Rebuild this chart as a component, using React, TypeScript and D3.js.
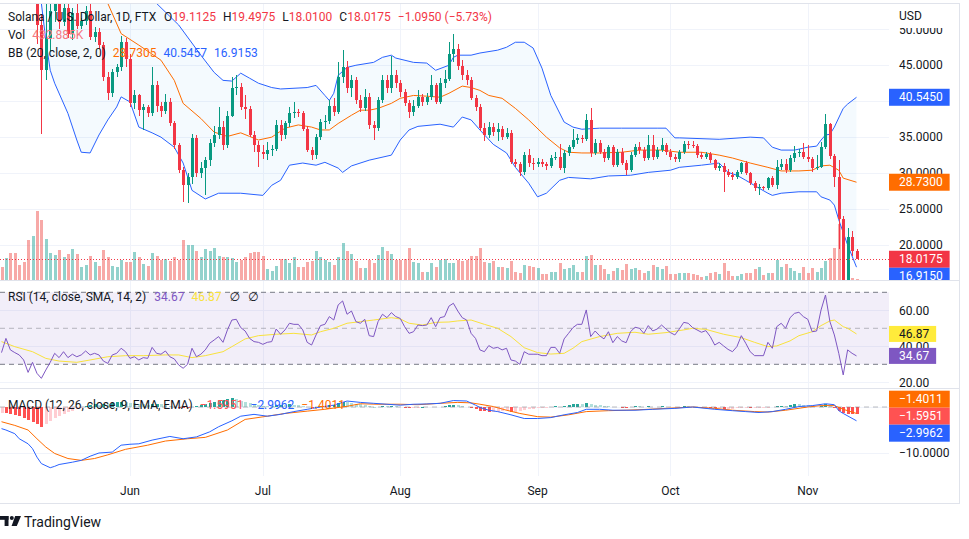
import React from 'react';
import * as d3 from 'd3';

// ---- data (SOL/USD daily, FTX) ----
const startDate = new Date(2022, 4, 3); // first candle: 3 May 2022

const opens = [
  88, 86, 93, 86, 83, 79, 73, 62, 64, 50.6,
  44.3, 48.75, 52.5, 54.5, 51, 53, 49.4, 52.3, 50.5, 51.2,
  52.6, 48.9, 49.6, 47.8, 43.3, 41.1, 44.0, 44.7, 48.2, 45.9,
  39.7, 40.8, 38.75, 39.2, 38.3, 42.2, 39.4, 38.6, 39.9, 36.9,
  33.9, 30.4, 28.3, 29.4, 34.9, 30.0, 30.7, 31.8, 34.2, 35.3,
  36.4, 33.9, 38.0, 41.8, 42.0, 39.2, 38.9, 35.3, 33.9, 32.9,
  32.6, 33.2, 33.4, 36.7, 35.3, 36.9, 38.3, 38.5, 38.3, 36.2,
  33.2, 32.5, 35.0, 37.1, 37.3, 39.4, 38.5, 43.3, 44.7, 41.8,
  42.9, 40.1, 39.0, 40.6, 36.7, 36.25, 40.1, 42.9, 41.8, 43.6,
  42.5, 41.25, 39.7, 38.5, 39.4, 40.6, 39.9, 40.6, 42.2, 39.9,
  42.6, 43.1, 46.6, 47.2, 44.9, 43.6, 42.9, 40.4, 39.2, 36.25,
  35.3, 36.4, 35.7, 36.2, 35.0, 35.6, 31.5, 31.3, 30.1, 32.5,
  31.4, 31.3, 31.6, 31.3, 31.0, 32.1, 32.3, 30.7, 32.8, 33.6,
  34.6, 34.9, 34.7, 37.4, 32.8, 34.2, 32.9, 32.1, 33.6, 31.1,
  32.9, 31.4, 30.4, 32.5, 33.6, 33.2, 32.1, 33.9, 32.2, 33.2,
  33.9, 32.9, 32.2, 32.0, 32.9, 34.1, 33.9, 33.7, 32.5, 32.3,
  32.6, 31.8, 30.7, 31.0, 30.1, 29.7, 29.4, 30.1, 31.4, 30.0,
  28.6, 27.9, 28.0, 27.9, 29.3, 28.3, 30.8, 31.2, 30.4, 32.1,
  32.8, 32.9, 32.2, 31.9, 30.7, 30.9, 33.6, 36.8, 32.4, 29.4,
  23.6, 14.5, 21.1, 19.1125,
];
const highs = [
  89.5, 94, 94.5, 87, 84.5, 80, 74, 66, 66, 52,
  54, 53.5, 56, 55, 54, 54, 53, 54, 51.6, 53.2,
  53.6, 50.3, 50.2, 48.3, 44, 44.5, 45.2, 49.0, 48.8, 46.5,
  41.5, 41.0, 39.6, 39.5, 44.7, 42.8, 39.9, 41.0, 40.4, 37.2,
  34.2, 30.8, 30.0, 35.5, 35.3, 31.6, 32.2, 34.8, 36.5, 39.2,
  37.2, 38.6, 43.4, 43.6, 42.5, 40.8, 39.3, 35.8, 34.4, 33.9,
  34.3, 33.9, 37.4, 37.4, 37.2, 39.2, 39.9, 38.9, 38.6, 36.5,
  33.6, 35.5, 37.5, 38.1, 40.2, 40.4, 45.4, 47.1, 45.6, 43.6,
  43.4, 40.8, 41.7, 41.2, 37.3, 40.6, 43.7, 43.7, 46.3, 44.3,
  42.9, 41.7, 40.1, 40.1, 41.5, 41.0, 41.2, 43.6, 42.6, 43.2,
  44.3, 48.2, 49.4, 48.0, 45.7, 44.3, 43.4, 40.9, 39.6, 36.9,
  37.1, 37.0, 37.0, 36.6, 36.3, 36.0, 32.0, 31.6, 32.9, 33.4,
  32.1, 32.1, 32.0, 31.6, 32.5, 32.9, 34.0, 33.2, 33.9, 36.1,
  35.4, 35.3, 38.2, 39.1, 34.8, 34.6, 33.3, 33.9, 33.9, 33.4,
  33.5, 31.8, 32.9, 34.1, 34.3, 33.6, 35.3, 35.3, 33.6, 34.9,
  34.2, 33.3, 32.6, 33.2, 34.5, 34.4, 34.4, 34.1, 32.9, 32.9,
  33.0, 32.0, 31.4, 31.4, 30.6, 30.1, 30.4, 31.6, 31.7, 30.2,
  28.9, 28.5, 28.2, 29.5, 29.6, 31.8, 32.0, 32.0, 32.5, 33.8,
  33.4, 34.2, 33.9, 32.2, 32.5, 34.3, 38.2, 36.9, 32.6, 31.8,
  24.0, 22.4, 21.9, 19.4975,
];
const lows = [
  85, 85, 84, 82, 78, 72, 58, 57, 48, 35.4,
  43, 47, 51, 50, 50.5, 48.8, 48.5, 50, 50.1, 50.6,
  48.5, 48.2, 47.3, 42.8, 40.1, 40.6, 43.4, 44.2, 44.8, 39.2,
  38.9, 38.0, 36.0, 37.8, 38.0, 38.5, 37.8, 38.2, 36.5, 33.4,
  30.0, 26.0, 25.9, 28.5, 29.5, 29.3, 26.9, 31.0, 33.6, 34.8,
  33.2, 33.5, 37.8, 40.9, 38.8, 37.5, 35.0, 33.0, 30.8, 31.9,
  31.8, 32.4, 33.1, 34.5, 34.8, 36.4, 37.6, 37.8, 35.9, 32.9,
  31.8, 32.0, 34.6, 36.2, 36.8, 37.9, 38.2, 42.5, 41.2, 40.6,
  39.6, 38.5, 38.6, 36.2, 34.6, 35.9, 39.8, 41.1, 41.1, 41.8,
  40.6, 39.3, 37.6, 38.0, 39.0, 39.4, 39.5, 40.1, 39.6, 39.6,
  41.8, 42.8, 45.5, 44.3, 43.0, 42.2, 40.1, 38.6, 35.9, 34.5,
  34.9, 35.2, 34.5, 34.6, 34.8, 31.2, 30.8, 29.6, 29.8, 30.9,
  30.4, 30.8, 30.9, 30.5, 30.7, 31.8, 30.4, 30.0, 32.4, 33.3,
  34.1, 34.2, 34.4, 32.3, 32.5, 32.6, 31.6, 31.8, 30.8, 30.9,
  31.1, 29.7, 30.1, 32.2, 32.6, 31.7, 31.8, 31.8, 31.9, 32.9,
  32.5, 31.8, 31.5, 31.6, 32.6, 33.4, 33.5, 32.1, 31.9, 31.9,
  31.4, 30.4, 30.3, 27.4, 29.4, 29.1, 29.2, 29.9, 29.8, 28.3,
  27.5, 26.9, 27.6, 27.7, 28.0, 27.8, 30.4, 30.0, 30.1, 31.6,
  32.2, 31.9, 31.6, 30.1, 30.4, 30.7, 33.3, 32.0, 28.1, 19.5,
  12.5, 13.8, 18.5, 18.01,
];
const closes = [
  86, 93, 86, 83, 79, 73, 62, 64, 50.6, 44.3,
  48.75, 52.5, 54.5, 51, 53, 49.4, 52.3, 50.5, 51.2, 52.6,
  48.9, 49.6, 47.8, 43.3, 41.1, 44.0, 44.7, 48.2, 45.9, 39.7,
  40.8, 38.75, 39.2, 38.3, 42.2, 39.4, 38.6, 39.9, 36.9, 33.9,
  30.4, 28.3, 29.4, 34.9, 30.0, 30.7, 31.8, 34.2, 35.3, 36.4,
  33.9, 38.0, 41.8, 42.0, 39.2, 38.9, 35.3, 33.9, 32.9, 32.6,
  33.2, 33.4, 36.7, 35.3, 36.9, 38.3, 38.5, 38.3, 36.2, 33.2,
  32.5, 35.0, 37.1, 37.3, 39.4, 38.5, 43.3, 44.7, 41.8, 42.9,
  40.1, 39.0, 40.6, 36.7, 36.25, 40.1, 42.9, 41.8, 43.6, 42.5,
  41.25, 39.7, 38.5, 39.4, 40.6, 39.9, 40.6, 42.2, 39.9, 42.6,
  43.1, 46.6, 47.2, 44.9, 43.6, 42.9, 40.4, 39.2, 36.25, 35.3,
  36.4, 35.7, 36.2, 35.0, 35.6, 31.5, 31.3, 30.1, 32.5, 31.4,
  31.3, 31.6, 31.3, 31.0, 32.1, 32.3, 30.7, 32.8, 33.6, 34.6,
  34.9, 34.7, 37.4, 32.8, 34.2, 32.9, 32.1, 33.6, 31.1, 32.9,
  31.4, 30.4, 32.5, 33.6, 33.2, 32.1, 33.9, 32.2, 33.2, 33.9,
  32.9, 32.2, 32.0, 32.9, 34.1, 33.9, 33.7, 32.5, 32.3, 32.6,
  31.8, 30.7, 31.0, 30.1, 29.7, 29.4, 30.1, 31.4, 30.0, 28.6,
  27.9, 28.0, 27.9, 29.3, 28.3, 30.8, 31.2, 30.4, 32.1, 32.8,
  32.9, 32.2, 31.9, 30.7, 30.9, 33.6, 36.8, 32.4, 29.4, 23.6,
  14.5, 21.1, 19.1125, 18.0175,
];
// volume, thousands
const volumes = [
  4550, 7700, 9450, 9450, 5250, 6300, 14000, 15400, 24150, 21000,
  14350, 9450, 8750, 10500, 8050, 9100, 10850, 9100, 4550, 5250,
  8400, 6300, 4900, 10500, 8050, 4900, 4550, 7000, 6300, 6300,
  9800, 8050, 5600, 4900, 9450, 8400, 7000, 7350, 6650, 8050,
  7000, 14000, 12250, 12250, 10150, 8050, 10850, 10150, 11200, 8400,
  8050, 8050, 7700, 6300, 7000, 8050, 9450, 9800, 9800, 8400,
  3850, 3150, 4900, 7350, 7350, 5950, 8050, 4550, 4550, 6300,
  6650, 10150, 8050, 7000, 6300, 5250, 8050, 12950, 10150, 9100,
  6650, 4200, 4200, 7000, 5950, 8750, 11550, 10150, 9100, 7000,
  7000, 7350, 11200, 6300, 5950, 2800, 2800, 5950, 4550, 7000,
  7350, 5950, 5950, 7000, 6650, 7000, 8400, 8400, 11200, 6300,
  5950, 6650, 4550, 4550, 4200, 6650, 2800, 2450, 5250, 4900,
  4550, 4200, 2100, 2100, 2800, 2800, 5950, 3850, 4200, 5250,
  2800, 2800, 8400, 8750, 5250, 5250, 3850, 2100, 3150, 4200,
  3500, 5600, 3850, 4200, 3500, 2450, 3150, 5250, 4550, 3850,
  4900, 2100, 2100, 2450, 2450, 2450, 2100, 1750, 1050, 1400,
  2450, 2800, 2100, 5950, 3150, 1400, 1400, 2100, 2450, 2450,
  3850, 4550, 1750, 2450, 2450, 7000, 4550, 5600, 4200, 3150,
  2450, 4550, 2450, 4200, 2800, 4200, 6650, 7700, 11200, 19600,
  17500, 2800, 700, 432.885,
];

// Bollinger Bands (20, 2): [day index, value]
const bbUpper: [number, number][] = [
  [35, 53.6], [40, 50.6], [45, 46.4], [48, 44.0], [50, 42.9], [52, 42.8], [54, 43.9], [56, 43.2],
  [58, 42.5], [61, 41.9], [63, 41.7], [69, 41.9], [71, 42.2], [73, 40.8], [74, 40.1], [75, 41.1],
  [76, 43.6], [78, 44.7], [80, 45.0], [84, 45.4], [86, 46.1], [88, 46.4], [89, 46.0], [93, 45.4],
  [96, 45.3], [98, 44.3], [101, 45.0], [102, 46.1], [103, 46.4], [106, 46.4], [108, 46.7], [112, 47.1],
  [114, 47.5], [116, 48.2], [118, 48.2], [120, 47.4], [122, 44.6], [124, 40.8], [127, 37.1], [129, 36.4],
  [131, 36.1], [135, 36.25], [140, 36.25], [148, 36.25], [150, 36.25], [152, 34.9], [153, 34.9], [162, 34.7],
  [169, 35.0], [172, 34.9], [174, 33.6], [176, 33.2], [179, 33.2], [182, 33.6], [184, 33.75], [185, 34.6],
  [186, 35.3], [187, 35.4], [188, 36.4], [190, 39.0], [191, 39.6], [193, 40.5457],
];
const bbBasis: [number, number][] = [
  [24, 53.6], [27, 49.4], [31, 47.8], [36, 45.7], [39, 42.9], [41, 39.7], [45, 37.6], [48, 35.7],
  [51, 35.1], [54, 35.6], [56, 35.1], [58, 34.6], [61, 35.0], [64, 36.25], [67, 36.7], [70, 36.4],
  [72, 36.0], [74, 36.0], [76, 36.9], [79, 38.05], [81, 38.75], [83, 38.75], [85, 39.0], [88, 39.7],
  [90, 40.4], [93, 40.8], [96, 40.7], [99, 40.55], [101, 41.1], [104, 42.1], [106, 41.9], [108, 41.5],
  [110, 40.8], [113, 40.4], [116, 39.0], [119, 37.4], [123, 35.0], [126, 33.5], [128, 32.9], [131, 32.8],
  [135, 32.8], [140, 32.9], [144, 33.2], [149, 33.2], [153, 32.9], [158, 32.9], [162, 32.5], [165, 32.1],
  [169, 31.4], [173, 30.8], [176, 30.3], [180, 30.3], [183, 30.4], [185, 31.0], [187, 31.1], [189, 30.4],
  [190, 29.3], [193, 28.7305],
];
const bbLower: [number, number][] = [
  [9, 53.6], [10, 48.5], [11, 44.3], [12, 42.5], [15, 38.3], [17, 34.6], [18, 32.9], [20, 32.8],
  [22, 35.3], [24, 37.4], [26, 39.2], [27, 40.6], [29, 39.9], [31, 36.4], [34, 35.6], [36, 35.0],
  [39, 33.6], [41, 31.4], [43, 27.6], [46, 26.4], [49, 27.2], [54, 27.2], [59, 26.9], [61, 28.3],
  [63, 29.0], [65, 31.1], [68, 31.4], [71, 31.1], [73, 31.5], [76, 30.7], [77, 30.1], [79, 31.0],
  [83, 31.8], [88, 32.5], [90, 34.6], [92, 36.0], [94, 36.5], [99, 36.8], [102, 36.4], [104, 37.8],
  [106, 37.4], [108, 36.0], [111, 34.0], [114, 32.8], [116, 30.8], [119, 28.6], [121, 26.7], [123, 27.2],
  [126, 29.0], [128, 29.4], [133, 29.2], [137, 29.6], [142, 29.7], [146, 30.1], [151, 30.4], [153, 30.8],
  [158, 31.1], [162, 31.4], [164, 30.1], [166, 29.7], [168, 29.0], [171, 27.9], [173, 27.2], [174, 26.9],
  [176, 27.2], [180, 27.4], [184, 27.4], [185, 26.7], [187, 26.25], [188, 25.55], [189, 23.5], [191, 20.0],
  [193, 16.9153],
];

// RSI (14), one value per day
const rsiValues = [
  36.5, 44.4, 38.0, 36.5, 35.2, 32.4, 25.5, 31.1, 25.0, 22.2,
  26.8, 31.1, 36.1, 33.7, 37.0, 33.7, 35.6, 34.2, 35.2, 37.4,
  35.2, 36.1, 35.2, 31.8, 30.5, 35.2, 36.1, 38.9, 37.0, 33.3,
  34.2, 32.4, 33.7, 33.3, 39.4, 36.1, 35.6, 37.4, 34.2, 33.0,
  29.6, 27.8, 30.0, 38.9, 34.2, 35.6, 38.0, 41.7, 43.5, 45.4,
  42.2, 49.1, 54.6, 55.0, 50.4, 48.5, 44.4, 42.6, 42.2, 41.1,
  42.2, 42.6, 49.6, 46.7, 49.1, 52.8, 52.2, 52.2, 49.1, 42.2,
  40.7, 46.3, 51.5, 52.2, 56.5, 54.6, 63.0, 65.2, 57.8, 59.6,
  53.7, 52.8, 55.0, 45.9, 45.4, 53.7, 57.8, 55.9, 58.7, 56.5,
  55.5, 50.9, 47.2, 48.1, 51.8, 51.5, 51.8, 55.9, 50.9, 55.9,
  56.5, 62.3, 63.9, 59.6, 55.9, 54.6, 47.2, 44.4, 38.0, 37.0,
  40.4, 38.9, 39.4, 38.0, 38.9, 32.4, 31.8, 30.0, 37.0, 35.6,
  35.6, 35.6, 34.8, 34.8, 39.4, 39.4, 36.1, 44.1, 47.2, 50.4,
  52.2, 52.2, 60.2, 45.4, 48.5, 45.9, 44.1, 48.1, 42.0, 45.4,
  43.0, 42.0, 48.1, 50.6, 50.0, 47.2, 51.5, 48.5, 49.6, 51.8,
  49.6, 47.6, 46.3, 49.6, 53.3, 52.8, 50.4, 49.1, 47.8, 48.7,
  45.4, 40.7, 42.2, 40.2, 38.3, 37.0, 39.8, 45.9, 41.7, 37.0,
  34.8, 34.8, 34.8, 42.2, 38.9, 50.9, 52.8, 50.0, 55.9, 58.3,
  58.9, 56.5, 55.0, 48.1, 48.5, 60.2, 68.5, 53.7, 46.3, 36.1,
  24.1, 38.0, 36.1, 34.67,
];
// RSI-based SMA (14): [day index, value]
const rsiMa: [number, number][] = [
  [0, 42.6], [3, 39.8], [7, 37.0], [10, 33.3], [13, 31.8], [17, 31.1], [20, 32.4], [24, 34.2],
  [28, 34.8], [32, 34.8], [37, 35.2], [40, 35.2], [43, 33.7], [46, 34.8], [50, 37.0], [52, 39.8],
  [55, 44.1], [58, 45.9], [62, 46.7], [66, 47.2], [70, 46.3], [72, 48.1], [75, 50.0], [78, 52.8],
  [81, 53.7], [84, 54.6], [88, 55.9], [90, 55.2], [92, 52.8], [95, 51.8], [98, 53.3], [101, 53.5],
  [103, 54.1], [106, 54.6], [109, 52.2], [112, 50.0], [115, 45.4], [118, 39.2], [121, 36.5], [124, 35.7],
  [127, 36.1], [129, 38.9], [131, 42.6], [135, 45.4], [139, 47.2], [143, 47.8], [146, 46.7], [150, 47.6],
  [154, 49.1], [156, 50.0], [159, 49.4], [163, 46.7], [167, 44.8], [170, 42.2], [173, 39.8], [175, 40.2],
  [178, 43.0], [180, 45.9], [183, 48.1], [185, 51.5], [187, 54.1], [188, 54.6], [190, 50.9], [191, 50.0],
  [193, 46.87],
];

// MACD (12, 26, 9): [day index, value]
const macdLine: [number, number][] = [
  [0, -4.7], [1, -5.0], [3, -5.8], [4, -6.9], [6, -8.0], [7, -9.05], [8, -10.9], [9, -12.3],
  [11, -13.2], [12, -12.9], [13, -12.5], [16, -12.0], [18, -11.6], [20, -10.7], [22, -10.0], [25, -9.8],
  [27, -8.3], [29, -8.1], [31, -8.0], [34, -7.2], [38, -6.4], [41, -6.9], [44, -6.5], [47, -5.4],
  [49, -4.3], [52, -3.0], [54, -2.0], [57, -1.6], [60, -2.0], [63, -1.6], [66, -1.0], [69, -0.5],
  [72, 0], [75, 0.4], [78, 1.3], [81, 1.0], [84, 0.8], [87, 0.6], [90, 0.4], [93, 0.6],
  [96, 0.66], [99, 0.8], [102, 1.4], [105, 1.3], [107, 0.4], [108, -0.1], [110, -0.7], [112, -1.0],
  [115, -1.7], [118, -2.5], [121, -2.5], [124, -2.3], [127, -1.7], [130, -1.2], [132, -0.5], [135, -0.5],
  [138, -0.7], [143, -0.7], [147, -0.5], [152, -0.3], [156, 0], [161, -0.5], [165, -0.8], [168, -1.0],
  [171, -1.2], [174, -1.0], [177, -0.5], [180, 0.1], [183, 0.3], [186, 0.7], [188, 0.5], [189, -0.8],
  [190, -1.4], [193, -2.9962],
];
const signalLine: [number, number][] = [
  [0, -3.2], [3, -4.0], [6, -5.0], [8, -6.9], [10, -8.7], [12, -10.1], [15, -11.2], [18, -11.6],
  [21, -11.2], [24, -10.4], [28, -9.2], [33, -8.3], [37, -7.4], [42, -6.9], [46, -6.6], [51, -5.0],
  [55, -2.7], [60, -2.0], [64, -1.4], [69, -0.9], [73, -0.5], [78, 0.15], [81, 0.7], [85, 0.6],
  [90, 0.6], [94, 0.5], [99, 0.8], [103, 1.0], [106, 0.9], [108, 0.6], [111, 0.1], [114, -0.7],
  [117, -1.4], [121, -2.1], [124, -2.2], [128, -1.7], [132, -1.0], [137, -0.8], [141, -0.7], [146, -0.5],
  [150, -0.3], [156, 0], [161, -0.3], [165, -0.7], [170, -1.0], [173, -1.1], [177, -0.7], [182, 0],
  [185, 0.3], [188, 0.3], [190, -0.5], [193, -1.4011],
];
// MACD histogram, one value per day
const macdHist = [
  -1.2, -1.3, -1.5, -1.7, -2.0, -2.4, -2.8, -3.3, -3.8, -4.4,
  -3.6, -3.0, -2.4, -1.9, -1.5, -1.1, -0.8, -0.5, -0.3, 0.2,
  0.4, 0.6, 0.5, 0.7, 0.6, 0.9, 1.0, 1.1, 1.0, 0.9,
  0.9, 0.7, 0.6, 0.4, 0.6, 0.7, 0.6, 0.4, 0.2, 0.1,
  -0.1, -0.2, -0.3, 0.1, 0.2, 0.4, 0.6, 0.8, 1.1, 1.4,
  1.6, 1.8, 1.9, 1.7, 1.4, 1.1, 0.9, 0.7, 0.5, 0.3,
  0.2, 0.2, 0.4, 0.5, 0.5, 0.6, 0.5, 0.4, 0.3, 0.1,
  -0.1, 0.0, 0.1, 0.2, 0.4, 0.5, 0.8, 1.1, 1.0, 0.9,
  0.7, 0.6, 0.5, 0.2, 0.0, 0.1, 0.2, 0.2, 0.3, 0.2,
  0.1, -0.1, -0.2, -0.2, -0.1, 0.0, 0.05, 0.1, 0.05, 0.1,
  0.2, 0.4, 0.5, 0.4, 0.3, 0.1, -0.2, -0.5, -0.8, -0.9,
  -1.0, -1.0, -1.0, -0.9, -0.9, -1.0, -1.0, -0.9, -0.6, -0.5,
  -0.4, -0.3, -0.2, -0.1, 0.1, 0.15, 0.1, 0.3, 0.5, 0.6,
  0.7, 0.7, 0.9, 0.6, 0.5, 0.4, 0.3, 0.3, 0.1, 0.1,
  -0.05, -0.1, 0.1, 0.2, 0.2, 0.1, 0.2, 0.1, 0.1, 0.2,
  0.1, 0.05, 0.05, 0.1, 0.2, 0.2, 0.1, -0.05, -0.1, -0.1,
  -0.2, -0.3, -0.3, -0.4, -0.4, -0.4, -0.3, -0.2, -0.2, -0.3,
  -0.3, -0.3, -0.2, -0.05, 0.05, 0.2, 0.3, 0.3, 0.5, 0.6,
  0.6, 0.5, 0.4, 0.2, 0.1, 0.3, 0.6, 0.3, -0.2, -0.8,
  -1.2, -1.45, -1.59, -1.5951,
];

const priceTicks = [20, 25, 30, 35, 40, 45, 50];
const rsiTicks = [20, 40, 60];
const macdTicks = [-10, 0];

// ---- style ----
const FONT = "Roboto, 'DejaVu Sans', sans-serif";
const TEXT = '#131722';
const GRID = '#F0F3FA';
const BORDER = '#E0E3EB';
const UP = '#089981';
const DOWN = '#F23645';
const UP_VOL = 'rgba(38,166,154,0.5)';
const DOWN_VOL = 'rgba(239,83,80,0.5)';
const BLUE = '#2962FF';
const ORANGE = '#FF6D00';
const PURPLE = '#7E57C2';
const YELLOW = '#F9E23C';

const W = 969;
const H = 539;
const plotR = 889;
const frameR = 959.5;
const tickX = 899;
const priceTop = 3;
const priceBottom = 280;
const rsiTop = 281;
const rsiBottom = 388;
const macdTop = 389;
const macdBottom = 476;

const minus = (s: string) => s.replace('-', '\u2212');

let ctx: CanvasRenderingContext2D | null = null;
const textW = (s: string, size = 12) => {
  if (!ctx) ctx = document.createElement('canvas').getContext('2d');
  if (!ctx) return s.length * 6.6;
  ctx.font = `${size}px Roboto`;
  return ctx.measureText(s).width;
};

type Lbl = { y: number; text: string; bg: string; fg: string };

function stackDown(items: Lbl[], h: number) {
  const s = [...items].sort((a, b) => a.y - b.y);
  for (let k = 1; k < s.length; k++) if (s[k].y < s[k - 1].y + h) s[k].y = s[k - 1].y + h;
  return s;
}

function stackCenter(items: Lbl[], h: number) {
  const s = [...items].sort((a, b) => a.y - b.y);
  const groups = s.map((it) => [it]);
  const ideals = new Map(s.map((it) => [it, it.y]));
  const place = (g: Lbl[]) => {
    const m = d3.mean(g, (it) => ideals.get(it)!)!;
    return g.map((_, k) => m - ((g.length - 1) * h) / 2 + k * h);
  };
  let merged = true;
  while (merged) {
    merged = false;
    for (let j = 0; j < groups.length - 1; j++) {
      const a = place(groups[j]);
      const b = place(groups[j + 1]);
      if (a[a.length - 1] + h > b[0]) {
        groups[j] = groups[j].concat(groups[j + 1]);
        groups.splice(j + 1, 1);
        merged = true;
        break;
      }
    }
  }
  const out: Lbl[] = [];
  groups.forEach((g) => {
    const ys = place(g);
    g.forEach((it, k) => out.push({ ...it, y: ys[k] }));
  });
  return out;
}

// a tick text is dropped only when the value boxes hide all of it
const hiddenBy = (ty: number, ls: Lbl[], h: number) => {
  for (let y = ty - 5; y <= ty + 4; y += 1) {
    if (!ls.some((l) => y >= l.y - h / 2 && y <= l.y + h / 2)) return false;
  }
  return true;
};

const App: React.FC = () => {
  const n = closes.length;
  const x = d3
    .scaleTime()
    .domain([startDate, d3.timeDay.offset(startDate, n - 1)])
    .range([1.5, 856.5]);
  const xd = (i: number) => x(d3.timeDay.offset(startDate, i));
  const yP = d3.scaleLinear().domain([20, 50]).range([245, 29.3]);
  const yV = d3.scaleLinear().domain([0, 24150]).range([priceBottom, 211]);
  const yR = d3.scaleLinear().domain([30, 70]).range([364.3, 292.3]);
  const yM = d3.scaleLinear().domain([-10, 0]).range([453, 407]);

  const months = d3.timeMonth.range(new Date(2022, 5, 1), new Date(2022, 11, 1));

  const pairLine = (ys: d3.ScaleLinear<number, number>) =>
    d3.line<[number, number]>().x((d) => xd(d[0])).y((d) => ys(d[1]));

  const fillPts: [number, number][] = [
    [xd(bbLower[0][0]), priceTop - 5],
    [xd(bbUpper[0][0]), priceTop - 5],
    ...bbUpper.map((d) => [xd(d[0]), yP(d[1])] as [number, number]),
    ...bbLower
      .slice()
      .reverse()
      .map((d) => [xd(d[0]), yP(d[1])] as [number, number]),
  ];
  const bbFill = d3.line()(fillPts) + 'Z';

  const rsiPath = d3.line<number>().x((_, i) => xd(i)).y((v) => yR(v))(rsiValues)!;

  const last = n - 1;
  const lastOf = (a: [number, number][]) => a[a.length - 1][1];
  const round005 = (v: number) => (Math.round(v / 0.005) * 0.005).toFixed(4);

  const priceLabels = stackDown(
    [
      { y: yP(lastOf(bbUpper)), text: round005(lastOf(bbUpper)), bg: BLUE, fg: '#fff' },
      { y: yP(lastOf(bbBasis)), text: round005(lastOf(bbBasis)), bg: ORANGE, fg: '#fff' },
      { y: yP(closes[last]), text: closes[last].toFixed(4), bg: DOWN, fg: '#fff' },
      { y: yP(lastOf(bbLower)), text: round005(lastOf(bbLower)), bg: BLUE, fg: '#fff' },
    ],
    17
  );
  const rsiLabels = stackDown(
    [
      { y: yR(lastOf(rsiMa)), text: lastOf(rsiMa).toFixed(2), bg: '#FFEB3B', fg: TEXT },
      { y: yR(rsiValues[last]), text: rsiValues[last].toFixed(2), bg: PURPLE, fg: '#fff' },
    ],
    16
  );
  const macdLabels = stackCenter(
    [
      { y: yM(lastOf(signalLine)), text: minus(lastOf(signalLine).toFixed(4)), bg: ORANGE, fg: '#fff' },
      { y: yM(macdHist[last]), text: minus(macdHist[last].toFixed(4)), bg: '#FF5252', fg: '#fff' },
      { y: yM(lastOf(macdLine)), text: minus(lastOf(macdLine).toFixed(4)), bg: BLUE, fg: '#fff' },
    ],
    17
  );

  const histColor = (i: number) => {
    const v = macdHist[i];
    const p = i > 0 ? macdHist[i - 1] : v;
    if (v >= 0) return v > p ? '#26A69A' : '#B2DFDB';
    return v < p ? '#FF5252' : '#FFCDD2';
  };

  const chg = closes[last] - closes[last - 1];
  const pct = (chg / closes[last - 1]) * 100;
  const valColor = closes[last] >= opens[last] ? UP : DOWN;

  const drawLabels = (ls: Lbl[], h: number) =>
    ls.map((l, k) => (
      <g key={k}>
        <rect x={plotR} y={l.y - h / 2} width={textW(l.text) + 17} height={h} fill={l.bg} />
        <text x={tickX} y={l.y + 4.2} fill={l.fg} fontSize={12}>
          {l.text}
        </text>
      </g>
    ));

  return (
    <div style={{ position: 'absolute', left: 0, top: 0, width: W, height: H, background: '#fff' }}>
      <svg width={W} height={H} style={{ display: 'block', fontFamily: FONT }}>
        <defs>
          <clipPath id="cp-price">
            <rect x={0} y={priceTop} width={plotR} height={priceBottom - priceTop} />
          </clipPath>
          <clipPath id="cp-rsi">
            <rect x={0} y={rsiTop} width={plotR} height={rsiBottom - rsiTop} />
          </clipPath>
          <clipPath id="cp-macd">
            <rect x={0} y={macdTop} width={plotR} height={macdBottom - macdTop} />
          </clipPath>
          <clipPath id="cp-price-axis">
            <rect x={plotR} y={priceTop} width={frameR - plotR} height={priceBottom - priceTop} />
          </clipPath>
          <clipPath id="cp-rsi-axis">
            <rect x={plotR} y={rsiTop} width={frameR - plotR} height={rsiBottom - rsiTop} />
          </clipPath>
          <clipPath id="cp-macd-axis">
            <rect x={plotR} y={macdTop} width={frameR - plotR} height={macdBottom - macdTop} />
          </clipPath>
        </defs>
        <rect width={W} height={H} fill="#fff" />

        {/* grid */}
        <g shapeRendering="crispEdges" stroke={GRID}>
          {months.map((m, k) => (
            <line key={k} x1={Math.round(x(m)) + 0.5} x2={Math.round(x(m)) + 0.5} y1={priceTop} y2={macdBottom} />
          ))}
          {priceTicks.map((t) => (
            <line key={'p' + t} x1={0} x2={plotR} y1={Math.round(yP(t)) + 0.5} y2={Math.round(yP(t)) + 0.5} />
          ))}
          {rsiTicks.map((t) => (
            <line key={'r' + t} x1={0} x2={plotR} y1={Math.round(yR(t)) + 0.5} y2={Math.round(yR(t)) + 0.5} />
          ))}
          {macdTicks.map((t) => (
            <line key={'m' + t} x1={0} x2={plotR} y1={Math.round(yM(t)) + 0.5} y2={Math.round(yM(t)) + 0.5} />
          ))}
        </g>

        {/* price pane */}
        <g clipPath="url(#cp-price)">
          <path d={bbFill} fill="rgba(33,150,243,0.05)" />
          <g shapeRendering="crispEdges">
            {volumes.map((v, i) => {
              const cx = Math.round(xd(i));
              return (
                <rect
                  key={i}
                  x={cx - 1}
                  y={yV(v)}
                  width={3}
                  height={priceBottom - yV(v)}
                  fill={closes[i] >= opens[i] ? UP_VOL : DOWN_VOL}
                />
              );
            })}
          </g>
          <path d={pairLine(yP)(bbBasis)!} fill="none" stroke={ORANGE} strokeWidth={1} />
          <path d={pairLine(yP)(bbUpper)!} fill="none" stroke={BLUE} strokeWidth={1} />
          <path d={pairLine(yP)(bbLower)!} fill="none" stroke={BLUE} strokeWidth={1} />
          <g shapeRendering="crispEdges">
            {closes.map((c, i) => {
              const o = opens[i];
              const col = c >= o ? UP : DOWN;
              const cx = Math.round(xd(i));
              const top = yP(Math.max(o, c));
              const bot = yP(Math.min(o, c));
              return (
                <g key={i} fill={col}>
                  <rect x={cx} y={yP(highs[i])} width={1} height={yP(lows[i]) - yP(highs[i])} />
                  <rect x={cx - 1} y={top} width={3} height={Math.max(1, bot - top)} />
                </g>
              );
            })}
          </g>
          <line
            x1={0}
            x2={plotR}
            y1={Math.round(yP(closes[last])) + 0.5}
            y2={Math.round(yP(closes[last])) + 0.5}
            stroke={DOWN}
            strokeDasharray="1 2"
          />
        </g>

        {/* RSI pane */}
        <g clipPath="url(#cp-rsi)">
          <rect x={0} y={yR(70)} width={plotR} height={yR(30) - yR(70)} fill="rgba(126,87,194,0.1)" />
          <line x1={0} x2={plotR} y1={yR(70)} y2={yR(70)} stroke="#787B86" strokeDasharray="5 4" />
          <line x1={0} x2={plotR} y1={yR(50)} y2={yR(50)} stroke="rgba(120,123,134,0.5)" strokeDasharray="5 4" />
          <line x1={0} x2={plotR} y1={yR(30)} y2={yR(30)} stroke="#787B86" strokeDasharray="5 4" />
          <path d={pairLine(yR)(rsiMa)!} fill="none" stroke={YELLOW} strokeWidth={1} />
          <path d={rsiPath} fill="none" stroke={PURPLE} strokeWidth={1} />
        </g>

        {/* MACD pane */}
        <g clipPath="url(#cp-macd)">
          <g shapeRendering="crispEdges">
            {macdHist.map((v, i) => {
              const cx = Math.round(xd(i));
              const y0 = yM(0);
              const y1 = yM(v);
              return (
                <rect
                  key={i}
                  x={cx - 1}
                  y={Math.min(y0, y1)}
                  width={3}
                  height={Math.max(0.6, Math.abs(y1 - y0))}
                  fill={histColor(i)}
                />
              );
            })}
          </g>
          <line x1={0} x2={plotR} y1={yM(0)} y2={yM(0)} stroke="rgba(120,123,134,0.5)" strokeDasharray="5 4" />
          <path d={pairLine(yM)(signalLine)!} fill="none" stroke={ORANGE} strokeWidth={1} />
          <path d={pairLine(yM)(macdLine)!} fill="none" stroke={BLUE} strokeWidth={1} />
        </g>

        {/* frame and separators */}
        <g shapeRendering="crispEdges" stroke={BORDER}>
          <line x1={0} x2={frameR} y1={priceTop + 0.5} y2={priceTop + 0.5} />
          <line x1={0} x2={frameR} y1={priceBottom + 0.5} y2={priceBottom + 0.5} />
          <line x1={0} x2={frameR} y1={rsiBottom + 0.5} y2={rsiBottom + 0.5} />
          <line x1={0} x2={frameR} y1={503.5} y2={503.5} />
          <line x1={frameR} x2={frameR} y1={priceTop} y2={503.5} />
        </g>

        {/* axes */}
        <g fontSize={12} fill={TEXT}>
          {priceTicks
            .filter((t) => !hiddenBy(yP(t), priceLabels, 17))
            .map((t) => (
              <text key={t} x={tickX} y={yP(t) + 4.2}>
                {t.toFixed(4)}
              </text>
            ))}
          {rsiTicks
            .filter((t) => !hiddenBy(yR(t), rsiLabels, 16))
            .map((t) => (
              <text key={t} x={tickX} y={yR(t) + 4.2}>
                {t.toFixed(2)}
              </text>
            ))}
          {macdTicks
            .filter((t) => !hiddenBy(yM(t), macdLabels, 17))
            .map((t) => (
              <text key={t} x={tickX} y={yM(t) + 4.2}>
                {minus(t.toFixed(4))}
              </text>
            ))}
          {months.map((m, k) => (
            <text key={k} x={x(m)} y={494.5} textAnchor="middle">
              {d3.timeFormat('%b')(m)}
            </text>
          ))}
        </g>
        <rect x={plotR} y={priceTop + 1} width={frameR - plotR - 0.5} height={24} fill="#fff" />
        <text x={tickX} y={20} fontSize={12} fill={TEXT}>
          USD
        </text>
        <g clipPath="url(#cp-price-axis)">{drawLabels(priceLabels, 17)}</g>
        <g clipPath="url(#cp-rsi-axis)">{drawLabels(rsiLabels, 16)}</g>
        <g clipPath="url(#cp-macd-axis)">{drawLabels(macdLabels, 17)}</g>

        {/* legends */}
        <g fontSize={12} fill={TEXT}>
          <text x={8} y={21}>
            <tspan>Solana / U.S. Dollar, 1D, FTX</tspan>
            <tspan dx={8}>O</tspan>
            <tspan fill={valColor}>{opens[last].toFixed(4)}</tspan>
            <tspan dx={7}>H</tspan>
            <tspan fill={valColor}>{highs[last].toFixed(4)}</tspan>
            <tspan dx={7}>L</tspan>
            <tspan fill={valColor}>{lows[last].toFixed(4)}</tspan>
            <tspan dx={7}>C</tspan>
            <tspan fill={valColor}>{closes[last].toFixed(4)}</tspan>
            <tspan dx={7} fill={valColor}>
              {minus(chg.toFixed(4))} ({minus(pct.toFixed(2))}%)
            </tspan>
          </text>
          <text x={8} y={39}>
            <tspan>Vol</tspan>
            <tspan dx={7} fill="#F5777F">
              {volumes[last].toFixed(3)}K
            </tspan>
          </text>
          <text x={8} y={56.5}>
            <tspan>BB (20, close, 2, 0)</tspan>
            <tspan dx={7} fill={ORANGE}>
              {lastOf(bbBasis).toFixed(4)}
            </tspan>
            <tspan dx={7} fill={BLUE}>
              {lastOf(bbUpper).toFixed(4)}
            </tspan>
            <tspan dx={7} fill={BLUE}>
              {lastOf(bbLower).toFixed(4)}
            </tspan>
          </text>
          <text x={8} y={301}>
            <tspan>RSI (14, close, SMA, 14, 2)</tspan>
            <tspan dx={8} fill={PURPLE}>
              {rsiValues[last].toFixed(2)}
            </tspan>
            <tspan dx={7} fill={YELLOW}>
              {lastOf(rsiMa).toFixed(2)}
            </tspan>
            <tspan dx={8}>{'\u2205'}</tspan>
            <tspan dx={8}>{'\u2205'}</tspan>
          </text>
          <text x={8} y={409}>
            <tspan>MACD (12, 26, close, 9, EMA, EMA)</tspan>
            <tspan dx={7} fill="#FF5252">
              {minus(macdHist[last].toFixed(4))}
            </tspan>
            <tspan dx={7} fill={BLUE}>
              {minus(lastOf(macdLine).toFixed(4))}
            </tspan>
            <tspan dx={7} fill={ORANGE}>
              {minus(lastOf(signalLine).toFixed(4))}
            </tspan>
          </text>
        </g>

        {/* TradingView mark */}
        <g fill={TEXT}>
          <rect x={0} y={516} width={8.5} height={3.8} />
          <rect x={4.6} y={516} width={3.9} height={10} />
          <circle cx={11.8} cy={518} r={2} />
          <path d="M15.2 516 L21 516 L16.8 526 L11.6 526 Z" />
          <text x={24} y={527} fontSize={14}>
            TradingView
          </text>
        </g>
      </svg>
    </div>
  );
};

export default App;
